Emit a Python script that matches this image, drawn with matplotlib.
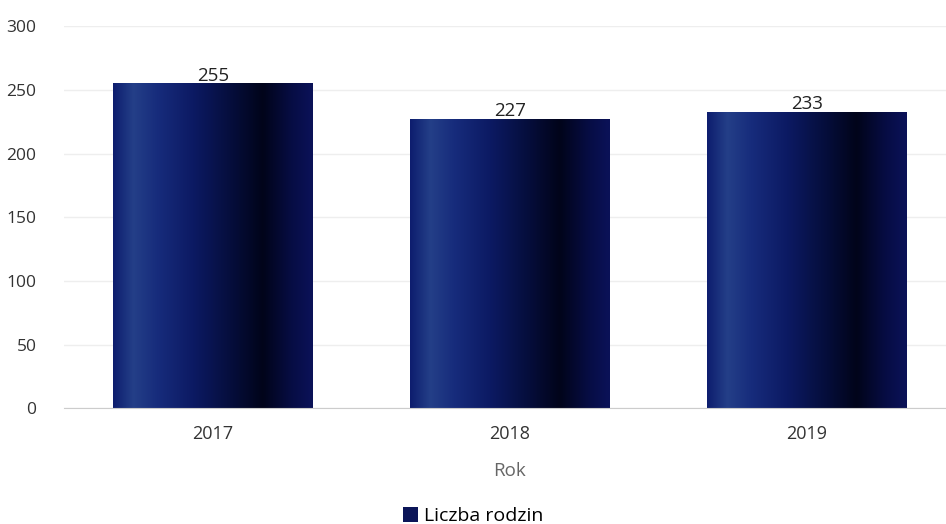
import numpy as np
import matplotlib.pyplot as plt
from matplotlib.colors import LinearSegmentedColormap
from matplotlib.patches import Patch

# Dane
lata = ['2017', '2018', '2019']
liczba_rodzin = [255, 227, 233]

plt.rcParams['font.family'] = ['Open Sans', 'DejaVu Sans']

fig = plt.figure(figsize=(9.46, 5.24), dpi=100)
ax = fig.add_axes([0.068, 0.221, 0.942, 0.729])

x = np.arange(len(lata))
bars = ax.bar(x, liczba_rodzin, width=0.67, color='none', edgecolor='none', zorder=2)

# gradient na slupkach (jasny pas z lewej, ciemno z prawej)
cmap = LinearSegmentedColormap.from_list('slupek', [
    (0.0, '#0d1d6e'), (0.1, '#243f88'), (0.22, '#172c7c'), (0.4, '#0c1a63'),
    (0.6, '#050d3a'), (0.75, '#01041a'), (0.9, '#070d45'), (1.0, '#0b1258')])
grad = np.linspace(0, 1, 256).reshape(1, -1)
for b in bars:
    x0, w, h = b.get_x(), b.get_width(), b.get_height()
    im = ax.imshow(grad, cmap=cmap, aspect='auto', extent=(x0, x0 + w, 0, h),
                   zorder=2, interpolation='bilinear')
    im.set_clip_path(b)
    ax.text(x0 + w / 2, h - 1, str(h), ha='center', va='bottom',
            fontsize=13.5, color='#222222', zorder=3)

ax.set_xlim(-0.5, 2.5)
ax.set_ylim(0, 300)
ax.set_yticks(range(0, 301, 50))
ax.set_xticks(x)
ax.set_xticklabels(lata)
ax.tick_params(axis='both', length=0, colors='#333333')
ax.tick_params(axis='x', pad=12, labelsize=13)
ax.tick_params(axis='y', pad=20, labelsize=12.5)
ax.grid(axis='y', color='#eeeeee', linewidth=1, zorder=0)
ax.set_axisbelow(True)
for s in ['top', 'right', 'left']:
    ax.spines[s].set_visible(False)
ax.spines['bottom'].set_color('#cccccc')

ax.set_xlabel('Rok', fontsize=13.5, color='#666666', labelpad=14)

fig.legend(handles=[Patch(facecolor='#0b1558', label='Liczba rodzin')],
           loc='lower center', bbox_to_anchor=(0.5, -0.035), frameon=False,
           fontsize=14, handlelength=0.8, handleheight=0.8, handletextpad=0.3)

fig.savefig('out.png', dpi=100)
